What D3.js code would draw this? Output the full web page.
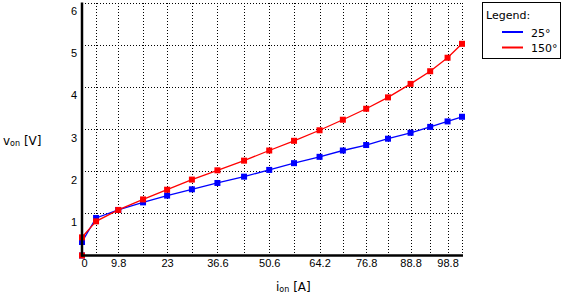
<!DOCTYPE html>
<html>
<head>
<meta charset="utf-8">
<script src="https://cdn.jsdelivr.net/npm/d3@7"></script>
<style>
    body { margin: 0; background: #fff; }
    svg { display: block; font-family: "DejaVu Sans", Verdana, sans-serif; }
</style>
</head>
<body>
<svg id="chart" width="565" height="295"></svg>
<script>
// current values (x), one per measured point
const iOn = [0, 0, 3.8, 9.8, 16.5, 23, 29.7, 36.6, 43.8, 50.6, 57.3, 64.2, 70.5, 76.8, 82.7, 88.8, 94.1, 98.8, 102.7];

// voltage drop for each temperature
const vOn25 = [0, 0.32, 0.89, 1.08, 1.26, 1.42, 1.57, 1.72, 1.87, 2.03, 2.19, 2.34, 2.49, 2.62, 2.77, 2.91, 3.05, 3.18, 3.29];
const vOn150 = [0, 0.43, 0.81, 1.08, 1.33, 1.56, 1.80, 2.02, 2.25, 2.49, 2.72, 2.97, 3.22, 3.48, 3.75, 4.07, 4.37, 4.69, 5.02];

const seriesNames = ["25°", "150°"];
const seriesColors = ["#0000ff", "#ff0000"];

// ticks: every data x gets a grid line, every other one a label
const xTicks = iOn.slice(1);
const xLabels = ["0", "9.8", "23", "36.6", "50.6", "64.2", "76.8", "88.8", "98.8"];
const yTicks = [1, 2, 3, 4, 5, 6];

const svg = d3.select("#chart");

const x = d3.scaleLinear().domain([0, 102.7]).range([82, 462]);
const y = d3.scaleLinear().domain([0, 6]).range([255.5, 2.5]);

// Draw dotted grid
const grid = svg.append("g").attr("class", "grid")
    .attr("stroke", "#000")
    .attr("stroke-width", 1)
    .attr("stroke-dasharray", "1,2")
    .attr("shape-rendering", "crispEdges");

grid.selectAll("line.v")
    .data(xTicks.slice(1))
    .enter().append("line")
    .attr("class", "v")
    .attr("x1", d => Math.round(x(d)) + 0.5)
    .attr("x2", d => Math.round(x(d)) + 0.5)
    .attr("y1", y(6))
    .attr("y2", y(0));

grid.selectAll("line.h")
    .data(yTicks)
    .enter().append("line")
    .attr("class", "h")
    .attr("x1", x(0))
    .attr("x2", x(102.7) + 1)
    .attr("y1", d => Math.round(y(d)) + 0.5)
    .attr("y2", d => Math.round(y(d)) + 0.5);

// Axes: labels only, the lines are drawn by hand below
const xAxis = d3.axisBottom(x)
    .tickValues(xTicks.filter((d, i) => i % 2 === 0))
    .tickSize(0)
    .tickPadding(4)
    .tickFormat((d, i) => xLabels[i]);

const yAxis = d3.axisLeft(y)
    .tickValues(yTicks)
    .tickSize(0)
    .tickPadding(5)
    .tickFormat(d3.format("d"));

const gx = svg.append("g")
    .attr("transform", `translate(0,${y(0)})`)
    .call(xAxis);
gx.select(".domain").remove();
gx.selectAll("text").attr("font-size", 11).attr("fill", "#000")
    .attr("font-family", null);
gx.selectAll(".tick").filter(d => d === 0).select("text").attr("dx", 2);

const gy = svg.append("g")
    .attr("transform", `translate(${x(0)},0)`)
    .call(yAxis);
gy.select(".domain").remove();
gy.selectAll("text").attr("font-size", 11).attr("fill", "#000")
    .attr("font-family", null)
    .attr("dy", "1.1em");

// Series lines and square markers
const series = [vOn25, vOn150];
series.forEach((vals, s) => {
    const pts = vals.map((v, i) => [iOn[i], v]);
    const line = d3.line().x(d => x(d[0])).y(d => y(d[1]));

    svg.append("path")
        .datum(pts)
        .attr("fill", "none")
        .attr("stroke", seriesColors[s])
        .attr("stroke-width", 1.3)
        .attr("d", line);

    svg.append("g")
        .selectAll("rect")
        .data(pts)
        .enter().append("rect")
        .attr("x", d => x(d[0]) - 3)
        .attr("y", d => y(d[1]) - 3)
        .attr("width", 6)
        .attr("height", 6)
        .attr("fill", seriesColors[s]);
});

// Axis lines (thick black)
svg.append("line")
    .attr("x1", x(0)).attr("x2", x(0))
    .attr("y1", y(6)).attr("y2", y(0) + 1)
    .attr("stroke", "#000").attr("stroke-width", 2.5);
svg.append("line")
    .attr("x1", x(0) - 1).attr("x2", x(102.7) + 1)
    .attr("y1", y(0)).attr("y2", y(0))
    .attr("stroke", "#000").attr("stroke-width", 2.5);

// Axis titles with subscripts
const yTitle = svg.append("text")
    .attr("x", 3).attr("y", 145)
    .attr("font-size", 12);
yTitle.append("tspan").text("v");
yTitle.append("tspan").attr("font-size", 8).attr("dy", 1).text("on");
yTitle.append("tspan").attr("dy", -1).text(" [V]");

const xTitle = svg.append("text")
    .attr("x", 276).attr("y", 291)
    .attr("font-size", 12);
xTitle.append("tspan").text("i");
xTitle.append("tspan").attr("font-size", 8).attr("dy", 1).text("on");
xTitle.append("tspan").attr("dy", -1).text(" [A]");

// Legend
const legend = svg.append("g").attr("class", "legend");
legend.append("rect")
    .attr("x", 482.5).attr("y", 2.5)
    .attr("width", 78).attr("height", 56)
    .attr("fill", "#fff")
    .attr("stroke", "#000");
legend.append("text")
    .attr("x", 486).attr("y", 19)
    .attr("font-size", 11)
    .text("Legend:");

const items = legend.selectAll("g.item")
    .data(seriesNames)
    .enter().append("g")
    .attr("class", "item")
    .attr("transform", (d, i) => `translate(0,${32 + i * 15.5})`);
items.append("line")
    .attr("x1", 502).attr("x2", 523)
    .attr("stroke", (d, i) => seriesColors[i])
    .attr("stroke-width", 2);
items.append("text")
    .attr("x", 531).attr("y", 4.5)
    .attr("font-size", 11)
    .text(d => d);
</script>
</body>
</html>
